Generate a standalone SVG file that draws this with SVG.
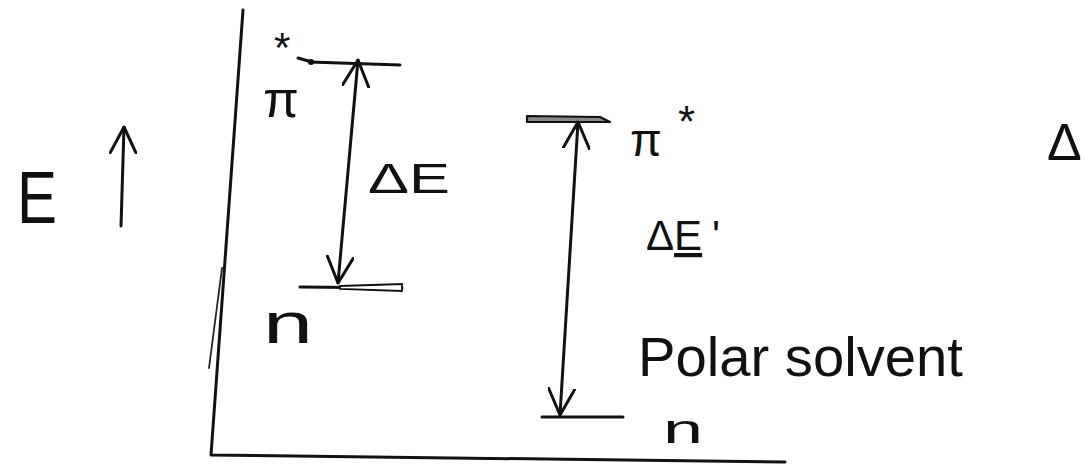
<svg xmlns="http://www.w3.org/2000/svg" width="1087" height="466" viewBox="0 0 1087 466">
  <style>
    .ink { stroke: #111; stroke-width: 3; fill: none; stroke-linecap: round; stroke-linejoin: round; }
    .thin { stroke: #222; stroke-width: 1.8; fill: none; stroke-linecap: round; }
    .lbl { font-family: "Liberation Sans", "DejaVu Sans", sans-serif; fill: #111; }
  </style>
  <defs>
    <marker id="vhead" viewBox="0 0 28 28" refX="27" refY="14" markerWidth="28" markerHeight="28" markerUnits="userSpaceOnUse" orient="auto-start-reverse">
      <path d="M1,1 L27,14 L1,27" fill="none" stroke="#111" stroke-width="3" stroke-linecap="round" stroke-linejoin="round"/>
    </marker>
  </defs>
  <rect width="1087" height="466" fill="#ffffff"/>

  <g id="axes">
    <path class="ink" d="M243,10 L211,455 L785,462"/>
    <path class="thin" d="M222,268 L209,368"/>
  </g>

  <g id="energy-label">
    <text class="lbl" x="17" y="223" font-size="74" textLength="40" lengthAdjust="spacingAndGlyphs">E</text>
  </g>

  <g id="level-pi-star-nonpolar">
    <path class="ink" d="M310,62 L400,65"/>
    <path class="ink" d="M298,58 L312,62"/>
    <circle cx="311" cy="62" r="3" fill="#111"/>
    <text class="lbl" x="274" y="62" font-size="42">*</text>
    <text class="lbl" x="263" y="117" font-size="52">π</text>
  </g>

  <g id="level-n-nonpolar">
    <path class="ink" d="M300,287 L402,288"/>
    <polygon points="340,286 402,284 402,291 340,289" fill="#fff" stroke="#111" stroke-width="1.8"/>
    <text class="lbl" x="263" y="343" font-size="58" textLength="50" lengthAdjust="spacingAndGlyphs">n</text>
  </g>

  <g id="label-delta-e">
    <text class="lbl" x="368" y="193" font-size="42" textLength="82" lengthAdjust="spacingAndGlyphs">ΔE</text>
  </g>

  <g id="level-pi-star-polar">
    <polygon points="527,116 600,117 610,122 527,122" fill="#888" stroke="#111" stroke-width="2.2" stroke-linejoin="round"/>
    <text class="lbl"><tspan x="630" y="156" font-size="46">π</tspan><tspan x="678" y="137" font-size="44">*</tspan></text>
  </g>

  <g id="label-delta-e-prime">
    <text class="lbl" x="646" y="250" font-size="42">Δ<tspan text-decoration="underline">E</tspan><tspan dx="10">'</tspan></text>
  </g>

  <g id="label-polar-solvent">
    <text class="lbl" x="638" y="376" font-size="56" textLength="325" lengthAdjust="spacingAndGlyphs">Polar solvent</text>
  </g>

  <g id="level-n-polar">
    <path class="ink" d="M542,417 L623,417"/>
    <text class="lbl" x="663" y="443" font-size="40" textLength="40" lengthAdjust="spacingAndGlyphs">n</text>
  </g>

  <g id="label-delta-partial">
    <text class="lbl" x="1047" y="160" font-size="52">Δ</text>
  </g>

  <g id="connectors">
    <path class="ink" d="M121,226 L124,127" marker-end="url(#vhead)"/>
    <path class="ink" d="M338,283 L358,60" marker-start="url(#vhead)" marker-end="url(#vhead)"/>
    <path class="ink" d="M560,415 L578,122" marker-start="url(#vhead)" marker-end="url(#vhead)"/>
  </g>
</svg>
